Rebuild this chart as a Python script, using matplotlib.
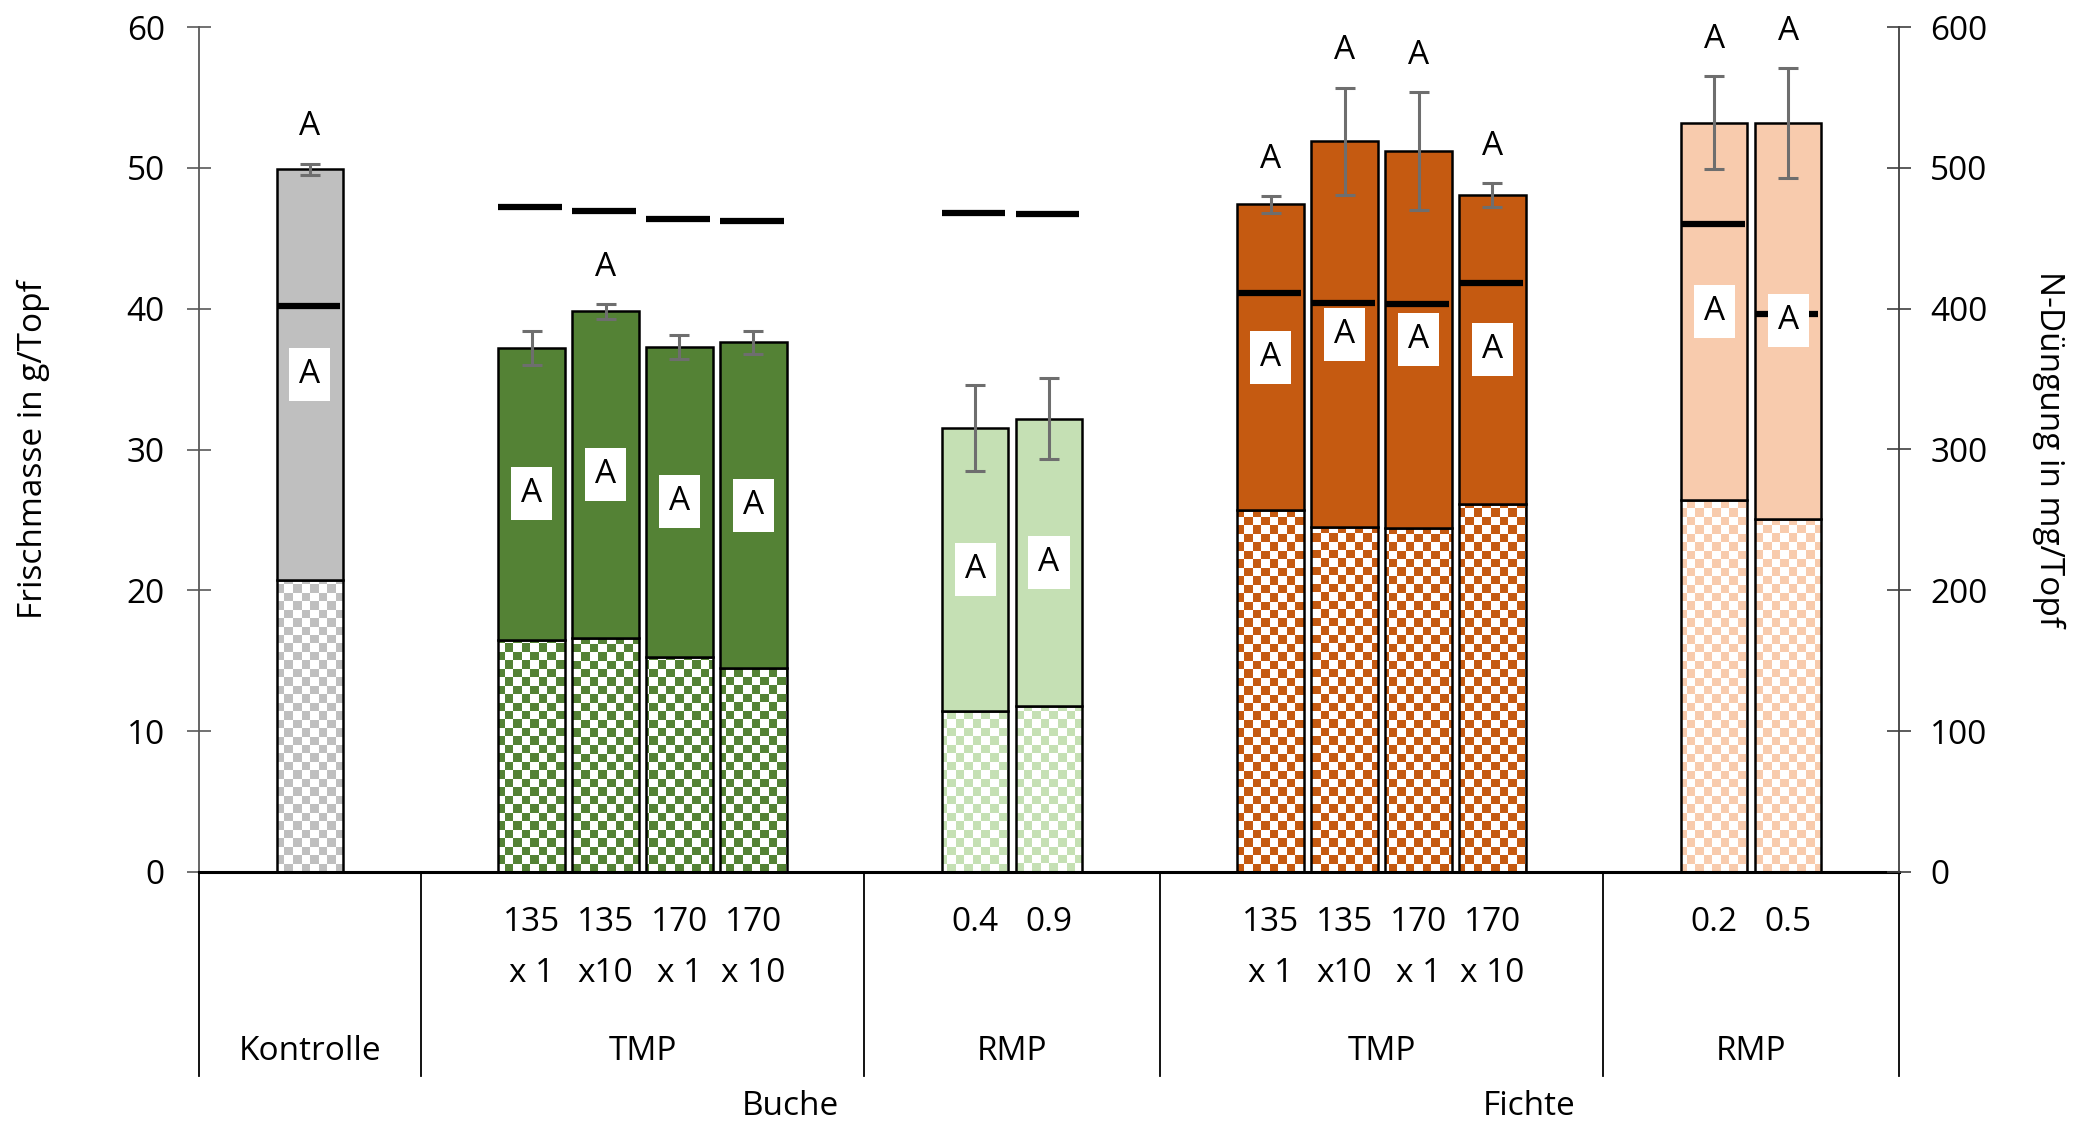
import numpy as np
import matplotlib
matplotlib.use("Agg")
import matplotlib.pyplot as plt
from matplotlib.colors import ListedColormap
from matplotlib.transforms import blended_transform_factory

plt.rcParams['font.family'] = ['Open Sans', 'DejaVu Sans']
FS = 24
plt.rcParams['font.size'] = FS

# Data (one entry per bar, left to right)
sub_labels = [('', ''), ('135', 'x 1'), ('135', 'x10'), ('170', 'x 1'), ('170', 'x 10'),
              ('0.4', ''), ('0.9', ''),
              ('135', 'x 1'), ('135', 'x10'), ('170', 'x 1'), ('170', 'x 10'),
              ('0.2', ''), ('0.5', '')]
group_names = ['Kontrolle', 'TMP', 'RMP', 'TMP', 'RMP']
group_sizes = [1, 4, 2, 4, 2]
species_names = ['Buche', 'Fichte']
species_groups = [(1, 2), (3, 4)]  # group index range for each species

frisch_gesamt = [49.9, 37.2, 39.8, 37.3, 37.6, 31.5, 32.2, 47.4, 51.9, 51.2, 48.1, 53.2, 53.2]
frisch_unten = [20.7, 16.5, 16.6, 15.3, 14.5, 11.4, 11.8, 25.7, 24.5, 24.4, 26.1, 26.4, 25.1]
fehler = [0.4, 1.2, 0.55, 0.85, 0.8, 3.05, 2.9, 0.6, 3.8, 4.2, 0.85, 3.3, 3.9]
n_duengung = [402, 472, 469, 464, 462, 468, 467, 411, 404, 403, 418, 460, 396]
letters_top = ['A', '', 'A', '', '', '', '', 'A', 'A', 'A', 'A', 'A', 'A']
letters_box = ['A'] * 13

colors = ['#BFBFBF'] + ['#548235'] * 4 + ['#C5E0B4'] * 2 + ['#C55A11'] * 4 + ['#F8CBAD'] * 2

# x positions: each group gets one empty slot on each side
x = []
group_edges = [0]
start = 0
for n in group_sizes:
    x += [start + 1 + k + 0.5 for k in range(n)]
    start += n + 2
    group_edges.append(start)
x = np.array(x)
n_slots = group_edges[-1]

gesamt = np.array(frisch_gesamt)
unten = np.array(frisch_unten)

fig = plt.figure(figsize=(20.82, 11.26), dpi=100)
ax = fig.add_axes([199 / 2082, 1 - 872 / 1126, 1700 / 2082, 845 / 1126])
ax2 = ax.twinx()

ax.set_xlim(0, n_slots)
ax.set_ylim(0, 60)
ax2.set_ylim(0, 600)
ax.set_autoscale_on(False)

w = 0.9
# lower part: checkerboard
low_bars = ax.bar(x, unten, width=w, facecolor='none', edgecolor='black', lw=1.8, zorder=3)
rows, cols = 100, 200
checker = (np.add.outer(np.arange(rows), np.arange(cols)) % 2).astype(float)
for bar, c in zip(low_bars, colors):
    im = ax.imshow(checker, cmap=ListedColormap(['white', c]), extent=[0, n_slots, 0, 60],
                   aspect='auto', interpolation='nearest', zorder=2, vmin=0, vmax=1)
    im.set_clip_path(bar)

# upper part: solid
ax.bar(x, gesamt - unten, bottom=unten, width=w, color=colors, edgecolor='black', lw=1.8, zorder=3)
ax.errorbar(x, gesamt, yerr=fehler, fmt='none', ecolor='#6E6E6E', elinewidth=2.2,
            capsize=7, capthick=2.2, zorder=4)

# N-Duengung on right axis
ax2.hlines(n_duengung, x - w / 2, x + 0.41, colors='black', lw=4.5, zorder=3, capstyle='butt')

# letters
for xi, tot, err, lt, lb, lo in zip(x, gesamt, fehler, letters_top, letters_box, unten):
    if lt:
        ax2.text(xi, tot + err + 2.6, lt, ha='center', va='center', transform=ax.transData,
                 fontsize=FS, zorder=6)
    ax2.text(xi, (tot + lo) / 2, lb, ha='center', va='center', transform=ax.transData,
             fontsize=FS, zorder=6,
             bbox=dict(boxstyle='square,pad=0.3', fc='white', ec='none'))

# axes styling
for a in (ax, ax2):
    a.spines['top'].set_visible(False)
ax.spines['right'].set_visible(False)
ax2.spines['left'].set_visible(False)
ax2.spines['bottom'].set_visible(False)
ax.spines['left'].set_color('#595959')
ax.spines['left'].set_linewidth(1.3)
ax2.spines['right'].set_color('#404040')
ax2.spines['right'].set_linewidth(1.3)
ax.spines['bottom'].set_linewidth(2.2)
ax.spines['bottom'].set_color('black')

ax.set_yticks(np.arange(0, 61, 10))
ax2.set_yticks(np.arange(0, 601, 100))
ax.tick_params(axis='y', direction='inout', length=17, width=1.2, color='#595959', pad=16)
ax2.tick_params(axis='y', direction='inout', length=17, width=1.2, color='#404040', pad=14)
ax.set_xticks([])

ax.set_ylabel('Frischmasse in g/Topf', fontsize=FS, va='center')
ax2.set_ylabel('N-Düngung in mg/Topf', fontsize=FS, rotation=270, va='center')
ax.yaxis.set_label_coords(-0.0976, 0.5)
ax2.yaxis.set_label_coords(1.088, 0.5)

# category axis (table-like)
trans = blended_transform_factory(ax.transData, ax.transAxes)
for e in group_edges:
    ax.plot([e, e], [0, -0.241], transform=trans, color='black', lw=1.3, clip_on=False)
for xi, (l1, l2) in zip(x, sub_labels):
    ax.text(xi, -0.060, l1, transform=trans, ha='center', va='center', fontsize=FS)
    ax.text(xi, -0.120, l2, transform=trans, ha='center', va='center', fontsize=FS)
for g, name in enumerate(group_names):
    ax.text((group_edges[g] + group_edges[g + 1]) / 2, -0.213, name, transform=trans,
            ha='center', va='center', fontsize=FS)
for name, (g0, g1) in zip(species_names, species_groups):
    ax.text((group_edges[g0] + group_edges[g1 + 1]) / 2, -0.277, name, transform=trans,
            ha='center', va='center', fontsize=FS)

fig.savefig('out.png', dpi=100)
